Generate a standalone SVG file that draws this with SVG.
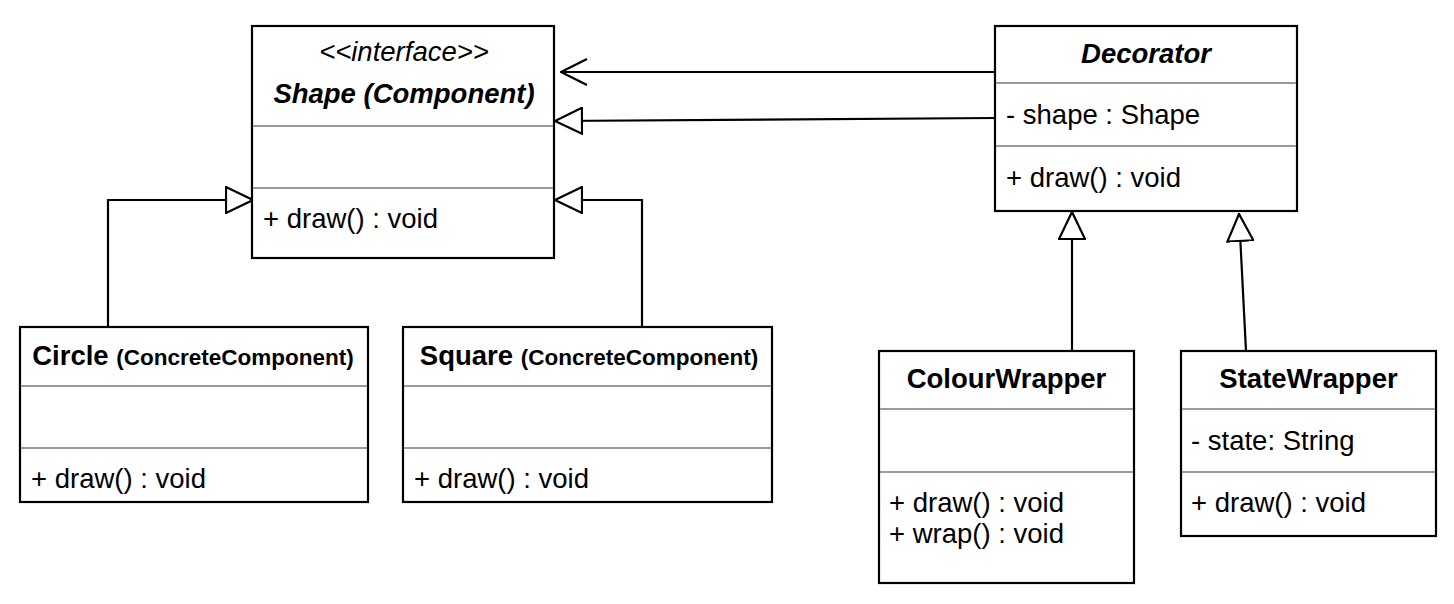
<svg xmlns="http://www.w3.org/2000/svg" width="1454" height="604" viewBox="0 0 1454 604">
<style>
.box{fill:#fff;stroke:#000;stroke-width:2.2}
.div{stroke:#9a9a9a;stroke-width:2}
.t{font-family:"Liberation Sans",Arial,Helvetica,sans-serif;font-size:27.5px;fill:#000}
.b{font-weight:bold}
.i{font-style:italic}
.m{text-anchor:middle}
.sm{font-size:22.5px}
.c{fill:none;stroke:#000;stroke-width:2.2}
</style>
<defs>
<marker id="tri" markerUnits="userSpaceOnUse" viewBox="0 0 29 28" refX="28" refY="14" markerWidth="29" markerHeight="28" orient="auto">
<path d="M1,1 L28,14 L1,27 Z" fill="#fff" stroke="#000" stroke-width="2.2"/>
</marker>
<marker id="open" markerUnits="userSpaceOnUse" viewBox="0 0 28 28" refX="27" refY="14" markerWidth="28" markerHeight="28" orient="auto">
<path d="M1,1 L27,14 L1,27" fill="none" stroke="#000" stroke-width="2.2"/>
</marker>
</defs>

<g id="connectors">
<path class="c" d="M997,72 L561,72" marker-end="url(#open)"/>
<path class="c" d="M995,118 L555,121" marker-end="url(#tri)"/>
<path class="c" d="M108,327 L108,200 L253,200" marker-end="url(#tri)"/>
<path class="c" d="M642,327 L642,200 L555,200" marker-end="url(#tri)"/>
<path class="c" d="M1072,351 L1072,212" marker-end="url(#tri)"/>
<path class="c" d="M1246,351 L1239,214" marker-end="url(#tri)"/>
</g>

<g id="shape">
<rect class="box" x="252" y="26" width="302" height="232"/>
<line class="div" x1="253" y1="126" x2="553" y2="126"/>
<line class="div" x1="253" y1="188" x2="553" y2="188"/>
<text class="t i m" x="404" y="61">&lt;&lt;interface&gt;&gt;</text>
<text class="t b i m" x="404" y="103">Shape (Component)</text>
<text class="t" x="263" y="228">+ draw() : void</text>
</g>

<g id="decorator">
<rect class="box" x="995" y="26" width="302" height="185"/>
<line class="div" x1="996" y1="83" x2="1296" y2="83"/>
<line class="div" x1="996" y1="146" x2="1296" y2="146"/>
<text class="t b i m" x="1146" y="63">Decorator</text>
<text class="t" x="1006" y="124">- shape : Shape</text>
<text class="t" x="1006" y="187">+ draw() : void</text>
</g>

<g id="circle">
<rect class="box" x="20" y="327" width="348" height="175"/>
<line class="div" x1="21" y1="386" x2="367" y2="386"/>
<line class="div" x1="21" y1="448" x2="367" y2="448"/>
<text class="t b m" x="193" y="365">Circle <tspan class="sm">(ConcreteComponent)</tspan></text>
<text class="t" x="31" y="488">+ draw() : void</text>
</g>

<g id="square">
<rect class="box" x="403" y="327" width="369" height="175"/>
<line class="div" x1="404" y1="386" x2="771" y2="386"/>
<line class="div" x1="404" y1="448" x2="771" y2="448"/>
<text class="t b m" x="589" y="365">Square <tspan class="sm">(ConcreteComponent)</tspan></text>
<text class="t" x="414" y="488">+ draw() : void</text>
</g>

<g id="colourwrapper">
<rect class="box" x="879" y="351" width="255" height="232"/>
<line class="div" x1="880" y1="409" x2="1133" y2="409"/>
<line class="div" x1="880" y1="472" x2="1133" y2="472"/>
<text class="t b m" x="1006.5" y="388">ColourWrapper</text>
<text class="t" x="889" y="512">+ draw() : void</text>
<text class="t" x="889" y="543">+ wrap() : void</text>
</g>

<g id="statewrapper">
<rect class="box" x="1181" y="351" width="255" height="185"/>
<line class="div" x1="1182" y1="409" x2="1435" y2="409"/>
<line class="div" x1="1182" y1="472" x2="1435" y2="472"/>
<text class="t b m" x="1308.5" y="388">StateWrapper</text>
<text class="t" x="1191" y="450">- state: String</text>
<text class="t" x="1191" y="512">+ draw() : void</text>
</g>
</svg>
